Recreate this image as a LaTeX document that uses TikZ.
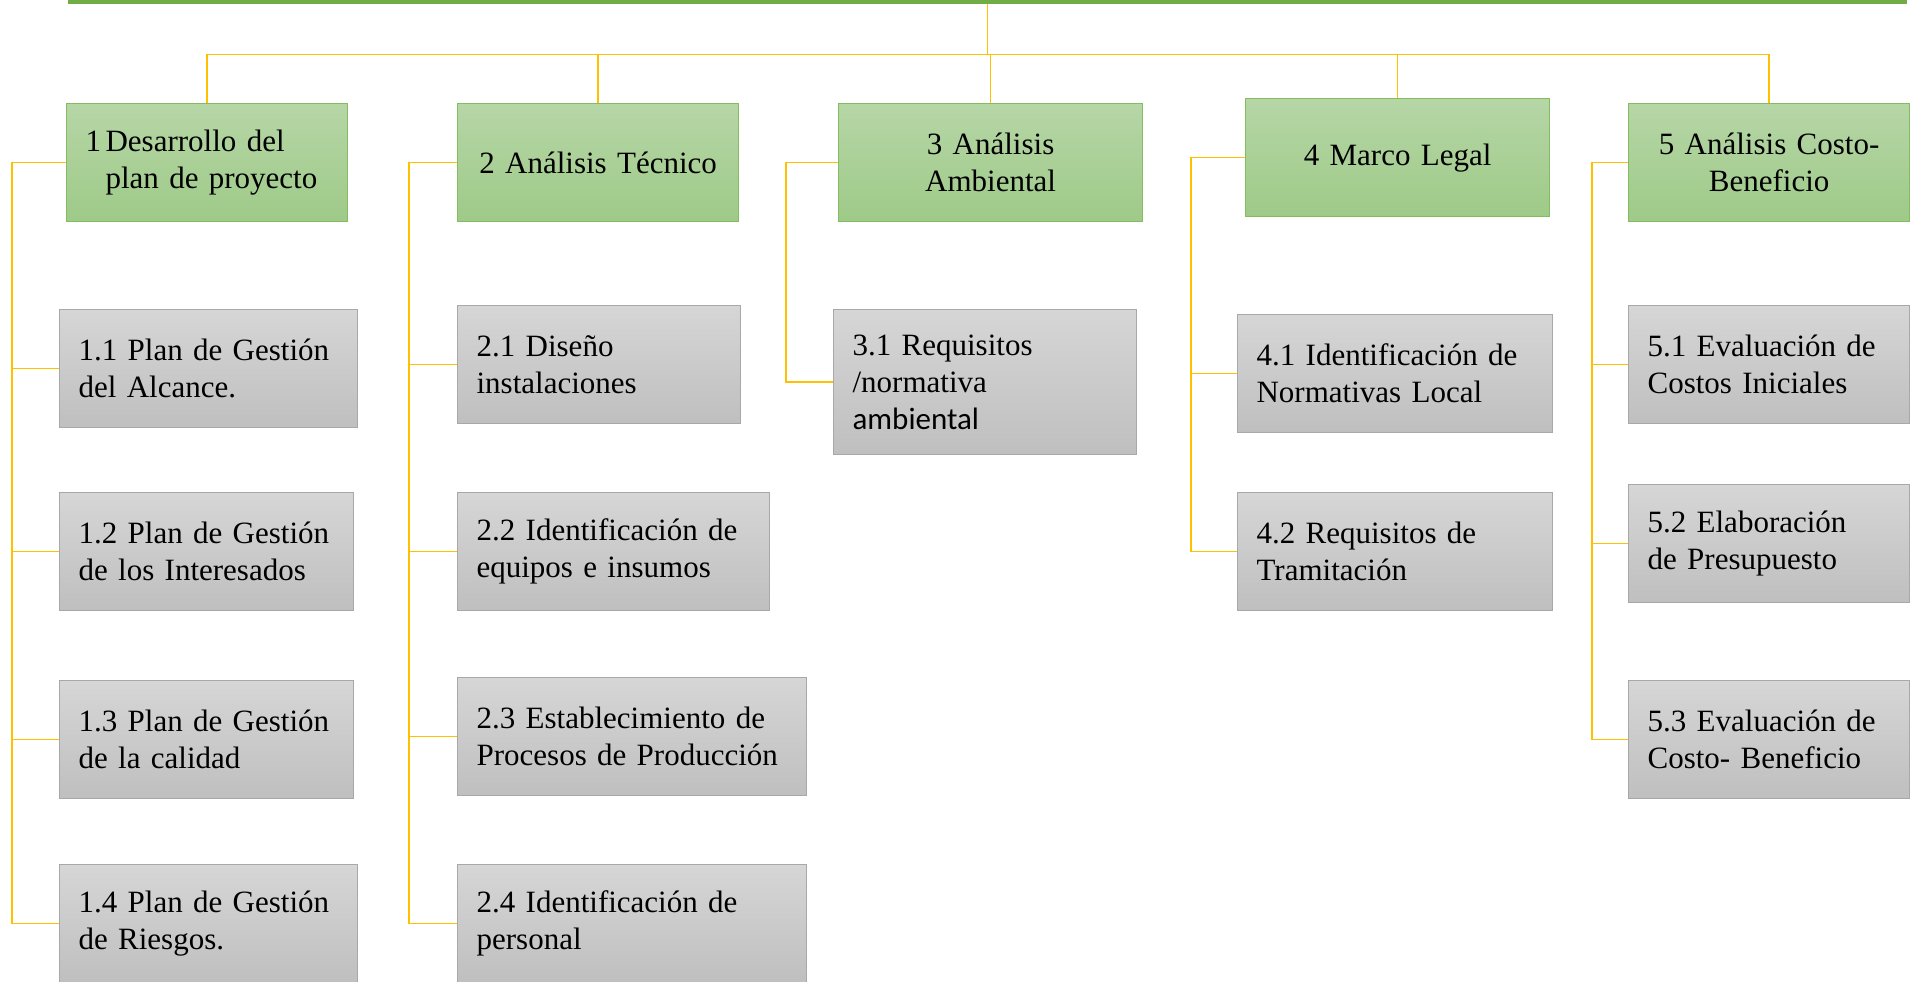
\documentclass[tikz,border=0pt]{standalone}
\usepackage{fontspec}
\setmainfont{Liberation Serif}
\newfontfamily\calibrifont{Carlito}
\definecolor{barGreen}{RGB}{112,173,71}
\definecolor{boxGreenTop}{RGB}{182,214,166}
\definecolor{boxGreenBot}{RGB}{158,202,136}
\definecolor{boxGreenLine}{RGB}{132,188,96}
\definecolor{boxGrayTop}{RGB}{214,214,214}
\definecolor{boxGrayBot}{RGB}{191,191,191}
\definecolor{boxGrayLine}{RGB}{168,168,168}
\definecolor{linkYellow}{RGB}{255,192,0}
\begin{document}
\begin{tikzpicture}[x=1pt,y=-1pt,
    greenbox/.style={draw=boxGreenLine,line width=1.2pt,top color=boxGreenTop,bottom color=boxGreenBot,
        anchor=north west,minimum height=118pt,inner xsep=19pt,inner ysep=2pt,text width=#1,align=center,
        font=\fontsize{31}{37}\selectfont},
    graybox/.style={draw=boxGrayLine,line width=1.2pt,top color=boxGrayTop,bottom color=boxGrayBot,
        anchor=north west,minimum height=118pt,inner xsep=19pt,inner ysep=2pt,text width=#1,align=left,
        font=\fontsize{31}{37}\selectfont},
    link/.style={draw=linkYellow,line width=1.3pt}]
    \useasboundingbox (0,0) rectangle (1915,982);

	\node[fill=barGreen,minimum width=1839pt,minimum height=40pt,inner sep=0pt] (root) at (987.5,-16) {};

	% level one
	\node[greenbox=243pt,align=left] (b1) at (66,103) {\makebox[20pt][l]{1}Desarrollo del\\\hspace*{20pt}plan de proyecto};
	\node[greenbox=243pt] (b2) at (457,103) {2 Análisis Técnico};
	\node[greenbox=266pt] (b3) at (838,103) {3 Análisis\\Ambiental};
	\node[greenbox=266pt] (b4) at (1245,98) {4 Marco Legal};
	\node[greenbox=243pt] (b5) at (1628,103) {5 Análisis Costo-\\Beneficio};

	% level two
	\node[graybox=260pt] (b11) at (59,309) {1.1 Plan de Gestión\\del Alcance.};
	\node[graybox=256pt] (b12) at (59,492) {1.2 Plan de Gestión\\de los Interesados};
	\node[graybox=256pt] (b13) at (59,680) {1.3 Plan de Gestión\\de la calidad};
	\node[graybox=260pt] (b14) at (59,864) {1.4 Plan de Gestión\\de Riesgos.};

	\node[graybox=245pt] (b21) at (457,305) {2.1 Diseño\\instalaciones};
	\node[graybox=274pt] (b22) at (457,492) {2.2 Identificación de\\equipos e insumos};
	\node[graybox=311pt] (b23) at (457,677) {2.3 Establecimiento de\\Procesos de Producción};
	\node[graybox=311pt] (b24) at (457,864) {2.4 Identificación de\\personal};

	\node[graybox=265pt,minimum height=145pt] (b31) at (833,309) {3.1 Requisitos\\/normativa\\{\calibrifont ambiental}};

	\node[graybox=277pt] (b41) at (1237,314) {4.1 Identificación de\\Normativas Local};
	\node[graybox=277pt] (b42) at (1237,492) {4.2 Requisitos de\\Tramitación};

	\node[graybox=243pt] (b51) at (1628,305) {5.1 Evaluación de\\Costos Iniciales};
	\node[graybox=243pt] (b52) at (1628,484) {5.2 Elaboración\\de Presupuesto};
	\node[graybox=243pt] (b53) at (1628,680) {5.3 Evaluación de\\Costo- Beneficio};

	% connectors
	\draw[link] (root.south) -- ++(0,50) coordinate (hub);
	\draw[link] (hub) -| (b1.north);
	\draw[link] (hub) -| (b2.north);
	\draw[link] (hub) -| (b3.north);
	\draw[link] (hub) -| (b4.north);
	\draw[link] (hub) -| (b5.north);

	\draw[link] (b1.west) -- ++(-54,0) coordinate (c1) |- (b14.west);
	\draw[link] (c1) |- (b11.west);
	\draw[link] (c1) |- (b12.west);
	\draw[link] (c1) |- (b13.west);

	\draw[link] (b2.west) -- ++(-48,0) coordinate (c2) |- (b24.west);
	\draw[link] (c2) |- (b21.west);
	\draw[link] (c2) |- (b22.west);
	\draw[link] (c2) |- (b23.west);

	\draw[link] (b3.west) -- ++(-52,0) |- (b31.west);

	\draw[link] (b4.west) -- ++(-54,0) coordinate (c4) |- (b42.west);
	\draw[link] (c4) |- (b41.west);

	\draw[link] (b5.west) -- ++(-36,0) coordinate (c5) |- (b53.west);
	\draw[link] (c5) |- (b51.west);
	\draw[link] (c5) |- (b52.west);

\end{tikzpicture}
\end{document}
